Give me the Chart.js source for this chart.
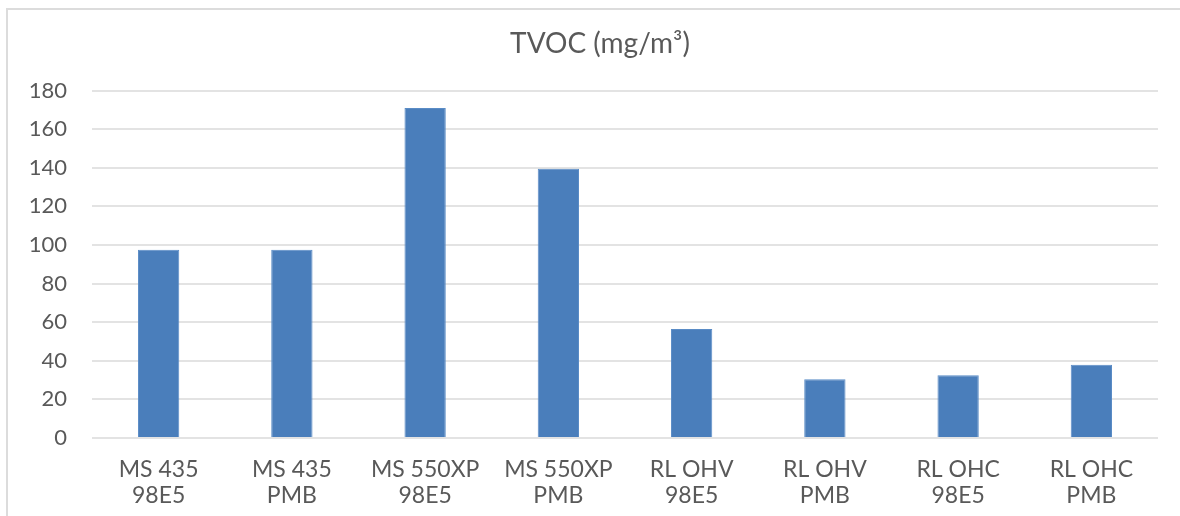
<!DOCTYPE html>
<html>
<head>
<meta charset="utf-8">
<script src="https://cdn.jsdelivr.net/npm/chart.js@4/dist/chart.umd.min.js"></script>
<style>
  html, body { margin: 0; padding: 0; background: #fff; }
  #wrap { position: relative; width: 1180px; height: 516px; overflow: hidden; }
  #frame {
    position: absolute; left: 6px; top: 8px; width: 1200px; height: 540px;
    border: 2px solid #dcdcdc; box-sizing: border-box;
  }
  canvas { position: absolute; left: 0; top: 0; }
</style>
</head>
<body>
<div id="wrap">
  <div id="frame"></div>
  <canvas id="chart" width="1180" height="516"></canvas>
</div>
<script>
// categories (two-line labels) and TVOC values
const categories = [
    ['MS 435', '98E5'],
    ['MS 435', 'PMB'],
    ['MS 550XP', '98E5'],
    ['MS 550XP', 'PMB'],
    ['RL OHV', '98E5'],
    ['RL OHV', 'PMB'],
    ['RL OHC', '98E5'],
    ['RL OHC', 'PMB'],
];
const tvocValues = [97.5, 97.5, 171, 139.5, 56.5, 30.5, 32.5, 38];
const yTicks = [0, 20, 40, 60, 80, 100, 120, 140, 160, 180];

const textColor = '#595959';
const fontFamily = 'Lato, "Open Sans", sans-serif';

const ctx = document.getElementById('chart').getContext('2d');
const myChart = new Chart(ctx, {

    type: 'bar',
    data: {
        labels: categories,
        datasets: [{
            label: 'TVOC',
            data: tvocValues,
            backgroundColor: '#4a7ebb',
            borderColor: '#5a8cc6',
            borderWidth: 1,
            barPercentage: 0.31,
            categoryPercentage: 1,
        }],
    },
    options: {
        responsive: false,
        animation: false,
        layout: {
            padding: { left: 20, right: 0, top: 0, bottom: 0 },
        },
        plugins: {
            legend: { display: false },
            tooltip: { enabled: false },
            title: {
                display: true,
                text: 'TVOC (mg/m³)',
                color: textColor,
                font: { family: fontFamily, size: 28, weight: 'normal', lineHeight: 1.2 },
                padding: { top: 27, bottom: 30 },
            },
        },
        scales: {
            x: {
                grid: { display: false, drawTicks: false },
                border: { display: false },
                ticks: {
                    color: textColor,
                    font: { family: fontFamily, size: 23, lineHeight: 1.15 },
                    padding: 18,
                    maxRotation: 0,
                    autoSkip: false,
                },
                afterFit: scale => { scale.height = 78; },
            },
            y: {
                min: 0,
                max: 180,
                afterBuildTicks: scale => { scale.ticks = yTicks.map(v => ({ value: v })); },
                grid: { color: '#e3e3e3', lineWidth: 2, drawTicks: false },
                border: { display: false },
                ticks: {
                    color: textColor,
                    font: { family: fontFamily, size: 22 },
                    padding: 25,
                },
                afterFit: scale => { scale.width = 72; },
            },
            // empty right axis, only keeps the plot off the right edge
            yRight: {
                position: 'right',
                min: 0,
                max: 180,
                grid: { display: false, drawTicks: false },
                border: { display: false },
                ticks: { display: false },
                afterFit: scale => { scale.width = 22; },
            },
        },
    },

});
</script>
</body>
</html>
